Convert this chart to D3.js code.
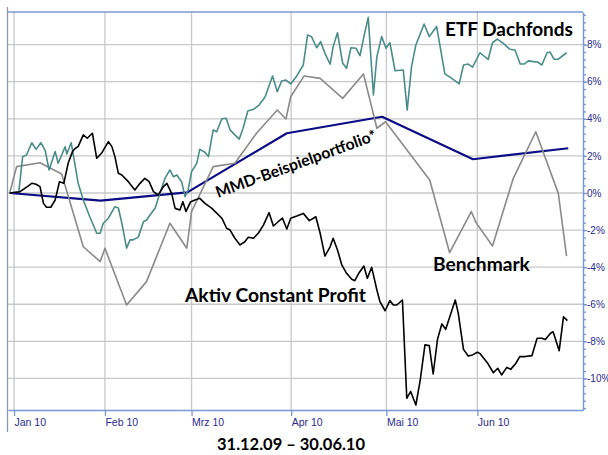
<!DOCTYPE html>
<html><head><meta charset="utf-8">
<script src="https://cdn.jsdelivr.net/npm/d3@7"></script>
<style>body{margin:0;background:#fff}svg{display:block}</style>
</head><body>
<svg id="chart" width="608" height="455"></svg>
<script>
// Trading-day index (0 = 31.12.2009, weekdays only)
const monthTicks  = [1, 22, 42, 65, 87, 108];
const monthLabels = ["Jan 10", "Feb 10", "Mrz 10", "Apr 10", "Mai 10", "Jun 10"];
const yTicks = [8, 6, 4, 2, 0, -2, -4, -6, -8, -10];

const etfDays = [0,2.1,3.0,3.9,5.1,6.1,7.2,8.2,9.1,10.5,11.2,12.8,13.2,14.2,15.8,17.0,18.5,20.1,20.9,21.6,22.8,24.3,25.1,25.9,27.0,27.8,28.5,29.7,30.9,31.6,32.4,33.6,34.7,35.9,37.0,37.8,38.6,39.7,40.5,41.2,42.0,43.2,43.9,45.1,45.9,47.0,47.8,49.0,50.0,50.9,52.0,53.0,53.9,55.0,56.3,57.6,59.0,60.7,61.8,62.8,63.8,64.9,66.3,67.8,68.8,69.7,70.9,71.8,72.8,74.0,74.7,75.7,76.9,77.8,78.8,80.0,80.9,81.8,82.8,84.0,84.8,85.9,86.9,87.8,89.0,90.9,91.8,92.8,93.8,95.7,96.9,98.6,100.5,102.1,103.8,104.8,105.9,106.9,108.6,110.5,111.5,112.6,114.0,115.5,116.7,117.9,118.8,119.8,121.0,121.9,122.9,124.1,124.8,125.7,126.7,128.6];
const etfValues = [0,0.05,1.96,2.05,2.71,2.35,2.71,2.28,1.24,2.23,1.6,2.49,2.1,2.71,0.54,-0.38,-1.28,-2.17,-2.17,-1.63,-1.36,-0.74,-0.81,-1.63,-2.97,-2.53,-2.53,-2.38,-1.55,-1.46,-1.19,-0.81,0,0.81,1.24,0.88,0.97,0.61,-0.2,0.16,1.15,1.6,2.35,2.2,1.96,3.4,3.3,4.0,4.03,3.4,3.13,2.9,3.49,4.42,4.51,4.74,5.19,6.31,5.46,6.04,6.09,5.88,6.31,6.9,8.52,8.43,7.83,8.16,7.53,6.94,7.89,8.64,6.99,6.72,7.83,7.8,7.4,8.43,9.47,5.28,7.35,8.43,7.8,8.1,6.59,6.63,4.47,6.81,7.98,9.11,8.43,8.97,6.42,6.18,5.88,6.9,6.95,6.78,7.56,7.2,8.1,8.29,8.07,7.75,7.71,6.95,6.95,7.12,7.08,7.06,6.9,7.56,7.6,7.21,7.21,7.56];

const acpDays = [0,2.4,3.5,5.1,6.1,7.0,7.8,8.5,9.5,10.5,11.5,12.5,13.5,14.5,15.1,15.8,17.0,17.9,19.1,20.1,21.2,22.8,23.6,24.3,25.1,25.9,27.4,28.9,30.1,31.2,32.2,33.2,34.3,35.5,36.3,37.4,38.2,39.3,40.0,40.7,41.8,42.8,43.9,45.1,46.7,49.0,50.1,50.9,52.0,53.2,54.3,55.1,56.3,57.4,58.6,59.9,60.9,62.0,63.0,64.0,64.9,66.3,67.8,69.2,70.7,71.7,72.8,74.0,74.7,75.7,76.7,77.8,79.0,79.7,80.7,81.8,82.6,83.6,84.8,85.5,86.7,87.8,88.6,89.4,90.7,91.7,92.6,93.8,94.8,95.9,96.9,97.8,98.8,99.8,100.7,102.9,103.6,104.8,105.9,106.9,108.0,108.6,110.3,111.7,112.7,113.6,114.8,115.7,116.9,117.8,119.0,120.6,121.8,122.9,123.7,124.9,125.5,126.9,127.9,128.8];
const acpValues = [0,0.07,0.25,0.52,0.47,0.34,-0.56,-0.77,-0.77,-0.38,0.61,0.52,1.6,2.23,2.4,2.5,3.13,2.95,3.22,1.87,2.14,2.77,2.5,1.96,1.06,0.97,0.61,0.16,0.52,0.79,0.61,0.07,-0.11,0.34,0.52,-0.02,-0.83,-0.92,-0.47,-1.0,-0.47,-0.38,-0.29,-0.56,-0.83,-1.36,-1.9,-2.0,-2.44,-2.8,-2.63,-2.39,-2.44,-2.17,-1.73,-1.06,-1.78,-1.55,-1.36,-1.94,-1.36,-1.24,-1.1,-1.49,-1.28,-2.17,-3.4,-2.9,-2.44,-3.07,-3.88,-4.33,-4.65,-4.73,-4.3,-3.94,-4.6,-4.01,-5.23,-5.86,-6.35,-5.8,-6.04,-6.04,-5.77,-11.07,-10.7,-11.43,-10.1,-8.19,-8.23,-9.76,-7.89,-7.06,-7.35,-5.77,-6.49,-8.43,-8.79,-8.73,-8.59,-8.65,-9.15,-9.69,-9.45,-9.81,-9.4,-9.51,-9.18,-8.82,-8.82,-8.77,-7.83,-7.83,-7.9,-7.56,-7.48,-8.5,-6.67,-6.88];

const benchDays = [0,1.6,7.0,12.0,17.0,20.9,22.0,27.0,31.6,37.0,40.9,42.0,47.0,52.0,57.0,61.8,63.8,64.9,68.0,71.7,76.9,81.7,84.8,86.8,97.0,101.6,106.6,107.7,111.5,116.3,121.5,126.7,128.6];
const benchValues = [0,1.42,1.63,1.02,-2.9,-3.7,-2.98,-6.04,-4.78,-1.63,-2.98,-1.0,1.42,1.6,3.22,4.47,3.99,5.19,6.31,6.18,5.1,6.42,3.49,3.84,0.7,-3.22,-1.0,-1.6,-2.86,0.79,3.3,-0.02,-3.4];

const mmdDays = [0, 21, 41, 64, 86, 107, 129];
const mmdValues = [0, -0.41, 0.03, 3.22, 4.11, 1.82, 2.41];

const svg = d3.select("#chart");
const L = 8, R = 583, T = 12, B = 410;
const x = d3.scaleLinear().domain([-0.39, 132.4]).range([L, R]);
const y = d3.scaleLinear().domain([-11.7, 9.757]).range([B, T]);

const gridColor = "#c8c8c8", axisColor = "#7a98d2", textColor = "#2a2a8e";

// gridlines
svg.append("g").selectAll("line").data(yTicks).join("line")
  .attr("x1", L).attr("x2", R).attr("y1", d => y(d)).attr("y2", d => y(d))
  .attr("stroke", gridColor).attr("stroke-width", 1.3);
svg.append("g").selectAll("line").data(monthTicks).join("line")
  .attr("x1", d => x(d)).attr("x2", d => x(d)).attr("y1", T).attr("y2", B)
  .attr("stroke", gridColor).attr("stroke-width", 1.3);

// frame
svg.append("line").attr("x1", 7.5).attr("x2", 7.5).attr("y1", 7).attr("y2", 432)
  .attr("stroke", "#8f97aa").attr("stroke-width", 1.3);
svg.append("line").attr("x1", L).attr("x2", R).attr("y1", T).attr("y2", T)
  .attr("stroke", axisColor).attr("stroke-width", 1.3);

// x axis
const xAxis = d3.axisBottom(x).tickValues(monthTicks)
  .tickFormat((d, i) => monthLabels[i]).tickSize(6).tickSizeOuter(0);
const gx = svg.append("g").attr("transform", `translate(0,${B})`).call(xAxis);
gx.select(".domain").attr("stroke", axisColor).attr("stroke-width", 1.5);
gx.selectAll(".tick line").attr("stroke", axisColor).attr("stroke-width", 1.3);
gx.selectAll(".tick text").attr("fill", textColor).attr("text-anchor", "start")
  .attr("x", 0).attr("y", 9)
  .style("font-family", "'Liberation Sans Narrow','Liberation Sans',sans-serif").style("font-size", "10.5px");

// y axis right, minor ticks
const minor = d3.range(-11.6, 9.7, 0.4);
const gyMinor = svg.append("g").attr("transform", `translate(${R},0)`)
  .call(d3.axisRight(y).tickValues(minor).tickSize(3).tickFormat(""));
gyMinor.select(".domain").remove();
gyMinor.selectAll(".tick line").attr("stroke", axisColor).attr("stroke-width", 1.3);
const gy = svg.append("g").attr("transform", `translate(${R},0)`)
  .call(d3.axisRight(y).tickValues(yTicks).tickSize(4).tickSizeOuter(0).tickFormat(d => d + "%"));
gy.select(".domain").attr("stroke", axisColor).attr("stroke-width", 1.5);
gy.selectAll(".tick line").attr("stroke", axisColor).attr("stroke-width", 1.3);
gy.selectAll(".tick text").attr("fill", textColor).attr("x", 4)
  .style("font-family", "'Liberation Sans',sans-serif").style("font-size", "10px");

// series
const line = d3.line().x(d => x(d[0])).y(d => y(d[1]));
const series = [
  {days: mmdDays, vals: mmdValues, color: "#0c0c86", w: 2.2},
  {days: benchDays, vals: benchValues, color: "#8a8a8a", w: 1.6},
  {days: etfDays, vals: etfValues, color: "#4a8c88", w: 1.6},
  {days: acpDays, vals: acpValues, color: "#000000", w: 1.6}
];
series.forEach(s => {
  svg.append("path").datum(d3.zip(s.days, s.vals)).attr("d", line)
    .attr("fill", "none").attr("stroke", s.color).attr("stroke-width", s.w)
    .attr("stroke-linejoin", "round");
});

// labels: font size fitted to the width the label has in the reference
const lab = (txt, px, py, width, rot, anchor) => {
  const t = svg.append("text").text(txt)
    .attr("transform", `translate(${px},${py}) rotate(${rot || 0})`)
    .attr("text-anchor", anchor || "start")
    .attr("fill", "#000").style("font-family", "Lato,'Open Sans',sans-serif")
    .style("font-weight", "bold").style("font-size", "20px");
  const w = t.node().getComputedTextLength();
  t.style("font-size", (20 * width / w).toFixed(2) + "px");
  return t;
};
lab("ETF Dachfonds", 445, 36, 128);
lab("Benchmark", 433, 271, 97);
lab("Aktiv Constant Profit", 185, 302, 181);
lab("MMD-Beispielportfolio*", 218, 198, 170, -20);
lab("31.12.09 \u2013 30.06.10", 291, 450, 148, 0, "middle");
</script>
</body></html>
